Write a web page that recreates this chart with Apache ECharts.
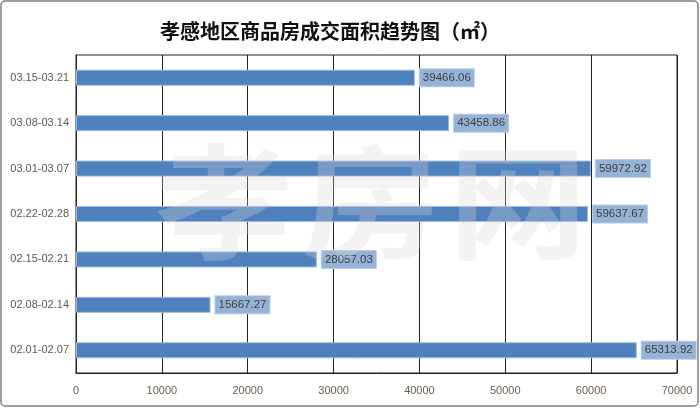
<!DOCTYPE html>
<html><head><meta charset="utf-8">
<script src="https://cdn.jsdelivr.net/npm/echarts@6/dist/echarts.min.js"></script>
<style>html,body{margin:0;padding:0;background:#fff}#c{width:700px;height:408px}</style>
</head><body><div id="c"></div>
<script>
const titleText = '孝感地区商品房成交面积趋势图（㎡）';
const categories = ['02.01-02.07','02.08-02.14','02.15-02.21','02.22-02.28','03.01-03.07','03.08-03.14','03.15-03.21'];
const areaValues = [65313.92, 15667.27, 28057.03, 59637.67, 59972.92, 43458.86, 39466.06];
const xTicks = [0, 10000, 20000, 30000, 40000, 50000, 60000, 70000];
const watermarkChars = ['孝','房','网'];

const chart = echarts.init(document.getElementById('c'), null, {renderer:'canvas'});
const wmCenters = [224, 371, 518];
const wm = watermarkChars.map((ch,i)=>({
  type:'text',x:wmCenters[i],y:202,scaleX:1.12,z:100,silent:true,
  style:{text:ch,font:'bold 124px "Noto Sans CJK SC"',fill:'rgba(215,215,215,0.3)',
    align:'center',verticalAlign:'middle'}
}));
chart.setOption({
  animation:false,
  backgroundColor:'#fff',
  title:{text:titleText,left:325,top:16,textAlign:'center',
    textStyle:{fontFamily:'Noto Sans CJK SC',fontSize:20,fontWeight:'bold',color:'#111'}},
  grid:{left:76,right:23,top:55,bottom:35,show:true,borderColor:'#222',borderWidth:1},
  xAxis:{type:'value',min:xTicks[0],max:xTicks[xTicks.length-1],interval:10000,
    axisLine:{show:true,lineStyle:{color:'#222'}},axisTick:{show:false},
    splitLine:{show:true,lineStyle:{color:'#222',width:1}},
    axisLabel:{color:'#6b5d4f',fontSize:11,fontFamily:'Liberation Sans',margin:12,
      formatter:v=>String(v)}},
  yAxis:{type:'category',data:categories,
    axisLine:{show:true,lineStyle:{color:'#222'}},axisTick:{show:false},
    axisLabel:{color:'#595959',fontSize:11,fontFamily:'Liberation Sans',margin:7}},
  series:[{type:'bar',data:areaValues,barWidth:16,
    itemStyle:{color:'#4F81BD',borderColor:'#9bb8de',borderWidth:1},
    label:{show:true,position:'right',distance:5,color:'#404040',fontSize:11.5,
      fontFamily:'Liberation Sans',backgroundColor:'#95B3D7',borderColor:'#b8cde6',borderWidth:1,
      padding:[3,3,2,3],formatter:p=>p.value.toFixed(2)},
    z:2}],
  graphic:wm.concat([
    {type:'rect',shape:{x:1,y:1,width:697,height:405,r:4},z:101,silent:true,
      style:{fill:'none',stroke:'#7f7f7f',lineWidth:1.5}}
  ])
});
</script></body></html>
